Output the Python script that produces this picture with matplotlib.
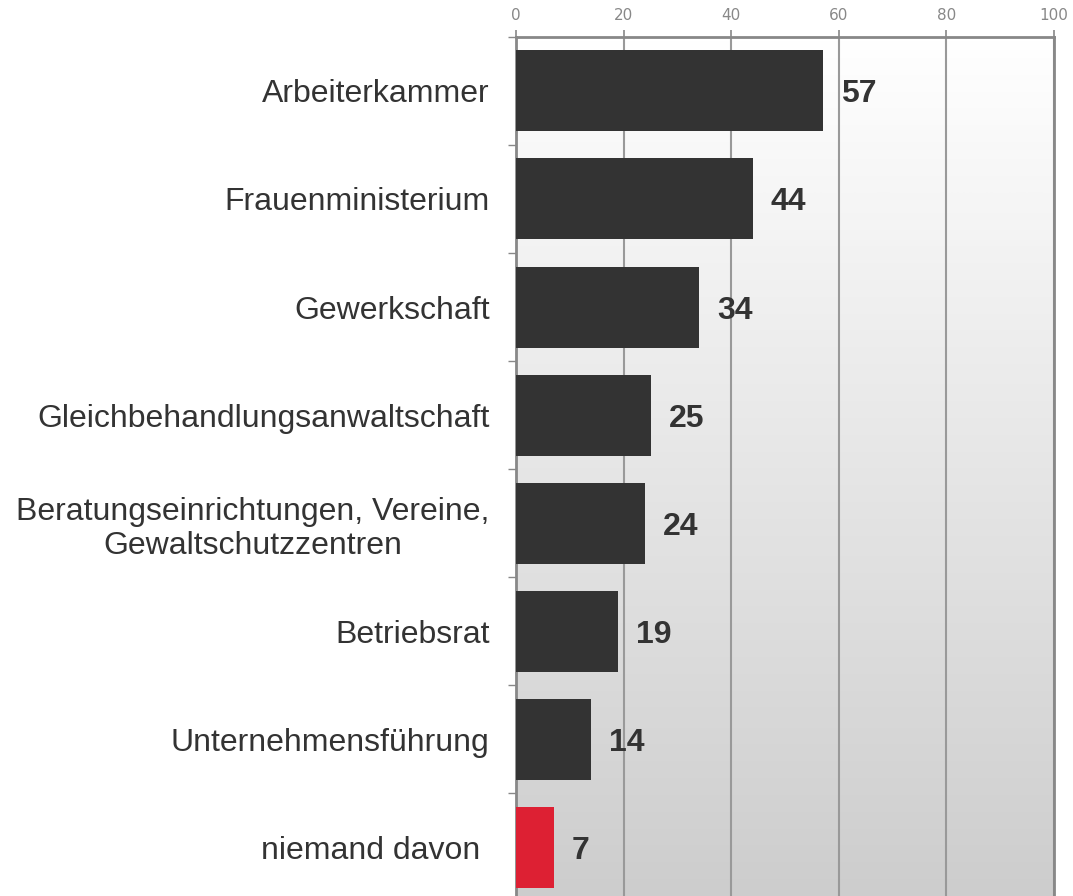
import numpy as np
import matplotlib
matplotlib.use("Agg")
import matplotlib.pyplot as plt
from matplotlib.colors import LinearSegmentedColormap

categories = ["Arbeiterkammer", "Frauenministerium", "Gewerkschaft",
              "Gleichbehandlungsanwaltschaft",
              "Beratungseinrichtungen, Vereine,\nGewaltschutzzentren",
              "Betriebsrat", "Unternehmensführung", "niemand davon "]
values = [57, 44, 34, 25, 24, 19, 14, 7]
colors = ["#333333"] * 7 + ["#dd2033"]
xticks = [0, 20, 40, 60, 80, 100]

fig = plt.figure(figsize=(10.73, 8.96), dpi=100)
ax = fig.add_axes([516/1073, 1 - 901/896, (1054-516)/1073, (901-37)/896])

n = len(categories)
# gradient background
cmap = LinearSegmentedColormap.from_list("bg", ["#ffffff", "#cdcdcd"])
grad = np.linspace(0, 1, 256).reshape(-1, 1)
ax.imshow(grad, aspect="auto", cmap=cmap, extent=[0, 100, n - 0.5, -0.5],
          zorder=0, interpolation="bicubic")

y = np.arange(n)
ax.barh(y, values, height=0.75, color=colors, zorder=3)
for yi, v in zip(y, values):
    ax.annotate(str(v), (v, yi), xytext=(18, 0), textcoords="offset pixels",
                ha="left", va="center_baseline", fontsize=23, fontweight="bold",
                color="#333333", family="Liberation Sans", zorder=4)

ax.set_xlim(0, 100)
ax.set_ylim(n - 0.5, -0.5)
ax.xaxis.tick_top()
ax.set_xticks(xticks)
ax.set_xticklabels([str(t) for t in xticks], fontsize=11, color="#888888",
                   family="DejaVu Sans")
ax.tick_params(axis="x", length=5, width=1.2, color="#888888", pad=5)
ax.set_yticks(y)
ax.set_yticklabels(categories, fontsize=23, color="#333333",
                   family="Liberation Sans", linespacing=1.2)
ax.set_yticks(np.arange(n + 1) - 0.5, minor=True)
ax.tick_params(axis="y", which="major", length=0, pad=19)
ax.tick_params(axis="y", which="minor", length=6, width=1, color="#888888")
for lbl in ax.get_yticklabels():
    lbl.set_multialignment("center")

ax.grid(axis="x", color="#999999", linewidth=1.5, zorder=1)
ax.set_axisbelow(True)
for side in ["left", "right", "top"]:
    ax.spines[side].set_color("#888888")
    ax.spines[side].set_linewidth(2)
ax.spines["bottom"].set_visible(False)

fig.savefig("out.png", dpi=100)
